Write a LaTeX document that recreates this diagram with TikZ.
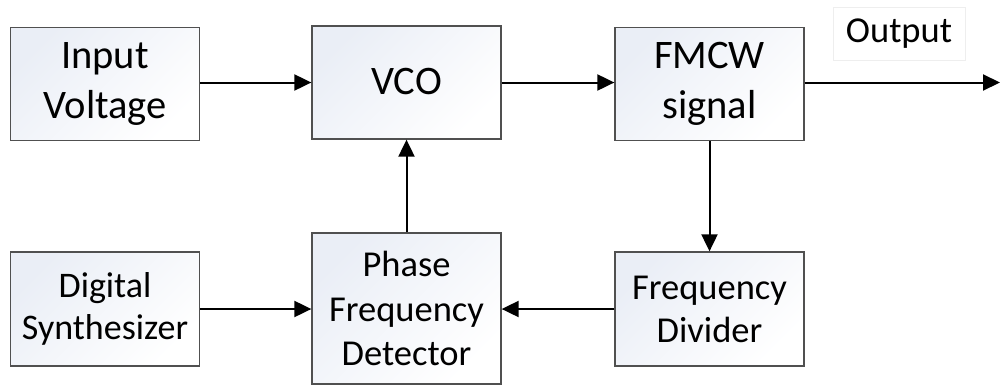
\documentclass[tikz,border=0pt]{standalone}
\usepackage{fontspec}
\setmainfont{Carlito}
\usetikzlibrary{arrows.meta}
\definecolor{boxtop}{HTML}{EAEEF6}
\definecolor{boxline}{HTML}{505050}
\definecolor{lblline}{HTML}{EEEEEE}
\tikzset{
  blk/.style={draw=boxline, line width=1.3pt, top color=boxtop, bottom color=white, shading angle=45,
    minimum width=189pt, minimum height=113pt, inner sep=0pt, align=center},
  conn/.style={line width=2pt, -{Triangle[length=17pt,width=16pt]}},
}
\begin{document}
\begin{tikzpicture}[x=1pt,y=-1pt]
\useasboundingbox (0,0) rectangle (1000,386);
\node[blk, font=\fontsize{40.5}{50}\selectfont] (iv) at (105,84) {Input\\Voltage};
\node[blk, font=\fontsize{40.5}{50}\selectfont] (vco) at (406.5,82.5) {\raisebox{3pt}{VCO}};
\node[blk, font=\fontsize{40.5}{50}\selectfont] (fmcw) at (709.5,84) {FMCW\\signal};
\node[blk, minimum height=114pt, font=\fontsize{36}{41.5}\selectfont] (ds) at (105,309) {Digital\\Synthesizer};
\node[blk, minimum height=151pt, font=\fontsize{36.5}{44.5}\selectfont] (pfd) at (406.5,308.5) {Phase\\Frequency\\Detector};
\node[blk, minimum height=114pt, font=\fontsize{36.5}{43}\selectfont] (fd) at (709.5,309) {Frequency\\Divider};
\node[draw=lblline, line width=0.8pt, fill=white, minimum width=132pt, minimum height=53pt, inner sep=0pt,
  font=\fontsize{36.5}{43}\selectfont] (out) at (899,33.5) {Output};
\coordinate (outend) at (1000,82.5);
\draw[conn] (iv.east |- vco.east) -- (vco.west);
\draw[conn] (vco.east) -- (fmcw.west |- vco.east);
\draw[conn] (fmcw.east |- vco.east) -- (outend);
\draw[conn] (pfd.north) -- (vco.south);
\draw[conn] (fmcw.south) -- (fd.north);
\draw[conn] (fd.west) -- (pfd.east |- fd.west);
\draw[conn] (ds.east) -- (pfd.west |- ds.east);
\end{tikzpicture}
\end{document}
